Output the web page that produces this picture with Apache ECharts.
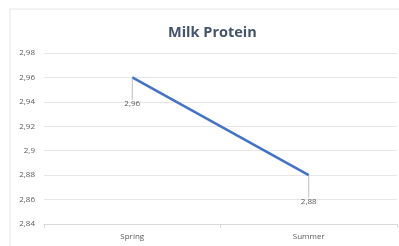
<!DOCTYPE html>
<html>
<head>
<meta charset="utf-8">
<style>
  html, body { margin: 0; padding: 0; background: #fff; }
  #chart { width: 399px; height: 246px; }
</style>
<script src="https://cdn.jsdelivr.net/npm/echarts@6/dist/echarts.min.js"></script>
</head>
<body>
<div id="chart"></div>
<script>
// data
var seasons = ["Spring", "Summer"];
var protein = [2.96, 2.88];
var yMin = 2.84, yMax = 2.98, yStep = 0.02;

function comma(v) {
  return String(parseFloat(Number(v).toFixed(2))).replace(".", ",");
}

var chart = echarts.init(document.getElementById("chart"));
chart.setOption({
  animation: false,
  backgroundColor: "#fff",
  textStyle: { fontFamily: "Open Sans" },
  graphic: [{
    type: "rect",
    shape: { x: 10, y: 9, width: 400, height: 260 },
    style: { fill: "none", stroke: "#e6e6e6", lineWidth: 1 },
    silent: true
  }],
  title: {
    text: "Milk Protein",
    left: 163,
    top: 20,
    textStyle: { fontSize: 14.5, fontWeight: "bold", color: "#44546a", fontFamily: "Open Sans" }
  },
  grid: { left: 44, right: 2, top: 53, bottom: 22 },
  xAxis: {
    type: "category",
    data: seasons,
    boundaryGap: true,
    axisLine: { lineStyle: { color: "#d9d9d9" } },
    axisTick: { show: true, length: 4, lineStyle: { color: "#d9d9d9" } },
    axisLabel: { fontSize: 8, color: "#595959", margin: 9 }
  },
  yAxis: {
    type: "value",
    min: yMin,
    max: yMax,
    interval: yStep,
    axisLine: { show: false },
    axisTick: { show: false },
    splitLine: { lineStyle: { color: "#e6e6e6" } },
    axisLabel: { fontSize: 8, color: "#595959", margin: 9, formatter: comma }
  },
  series: [{
    type: "line",
    data: protein,
    symbol: "circle",
    symbolSize: 2,
    showSymbol: true,
    itemStyle: { color: "rgba(68,114,196,0)", borderColor: "rgba(68,114,196,0)" },
    lineStyle: { color: "#4472c4", width: 2.5 },
    label: {
      show: true,
      position: "bottom",
      distance: 2,
      fontSize: 8,
      color: "#595959",
      formatter: function (p) { return comma(p.value); }
    },
    labelLayout: { dy: 19 },
    labelLine: { show: true, lineStyle: { color: "#bfbfbf", width: 1 } }
  }]
});
</script>
</body>
</html>
